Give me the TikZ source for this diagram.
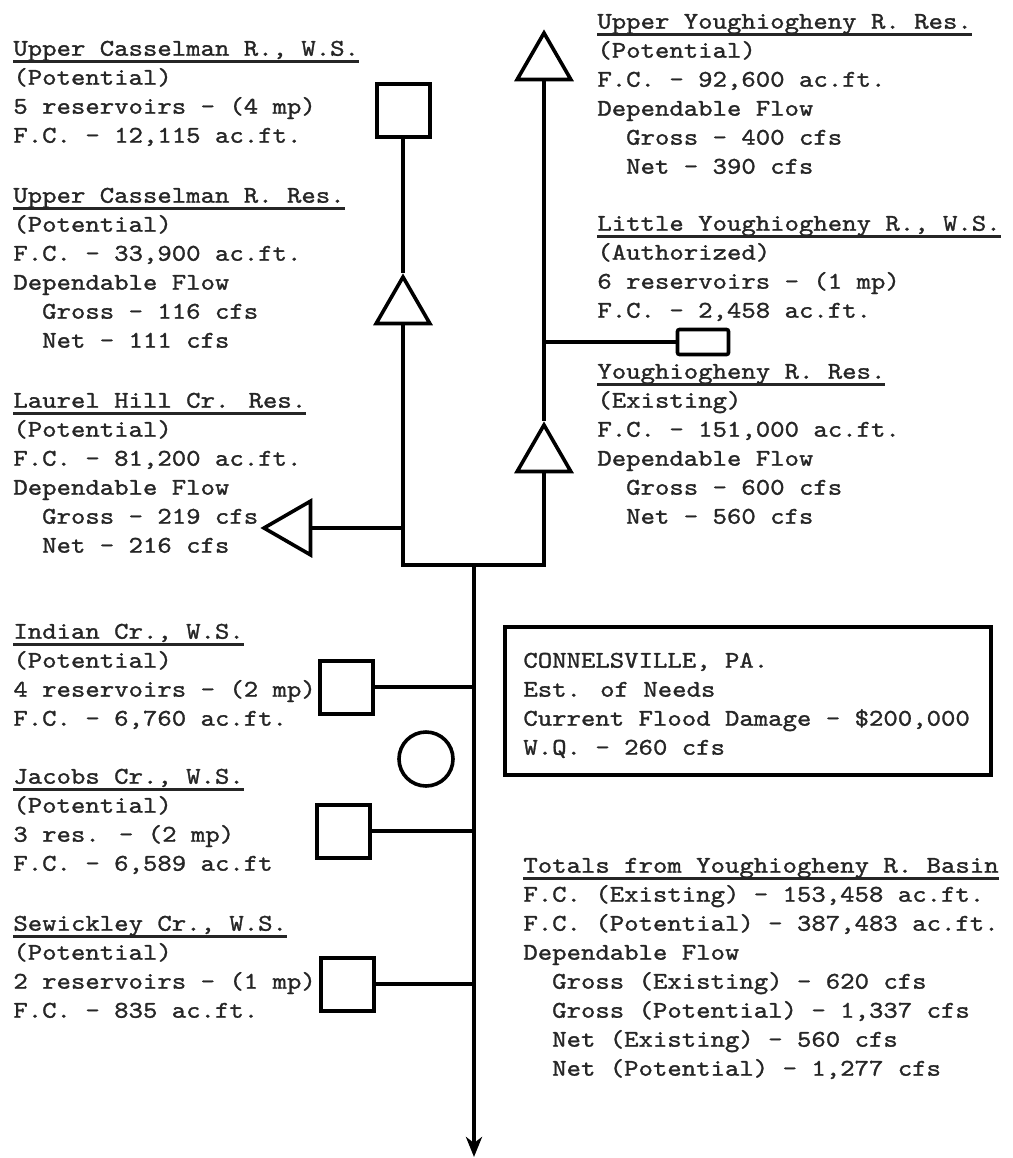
\documentclass[tikz,border=0pt]{standalone}
\usepackage{fontspec}
\usetikzlibrary{shapes.geometric,arrows.meta}
\newfontfamily\typer[FakeStretch=1.143,FakeBold=1.2]{lmmono10-regular.otf}
% underlined heading line of a block
\newcommand\hdr[1]{\strut\setbox0=\hbox{#1}\rlap{\rule[-3.7pt]{\wd0}{1.4pt}}\box0}
\newcommand\ind{\hphantom{xx}}
\tikzset{
  flow/.style={line width=1.8pt},
  damsq/.style={draw, line width=2pt, minimum size=26.5pt, inner sep=0pt},
  damtri/.style={draw, regular polygon, regular polygon sides=3, line width=1.8pt, minimum size=31pt, inner sep=0pt},
  info/.style={anchor=north west, align=left, inner sep=0pt, text=black!85, font=\typer\fontsize{12}{14.5}\selectfont},
}
\begin{document}
\begin{tikzpicture}[x=0.5pt,y=-0.5pt]
\useasboundingbox (0,0) rectangle (1013,1158);
% Casselman branch
\node[damsq] (ucwsSq) at (403,110) {};
\node[damtri] (ucresTri) at (403,308) {};
\node[damtri,shape border rotate=90] (laurTri) at (295,528) {};
\coordinate (laurJ) at (403,528);
% Youghiogheny branch
\node[damtri] (uyTri) at (544,64) {};
\node[draw,line width=1.8pt,rounded corners=1pt,minimum width=25.5pt,minimum height=12.5pt,inner sep=0pt] (lyBox) at (703,342) {};
\coordinate (lyJ) at (544,342);
\node[damtri] (yresTri) at (544,456) {};
% junction
\coordinate (jL) at (403,565);
\coordinate (jR) at (544,565);
\coordinate (jM) at (474,565);
\coordinate (outlet) at (474,1157);
% lower tributaries
\node[damsq] (indSq) at (346,687) {};
\node[draw,circle,line width=1.8pt,minimum size=27pt,inner sep=0pt] (gage) at (426,759) {};
\node[damsq] (jacSq) at (343,831) {};
\node[damsq] (sewSq) at (347,984) {};
\node[draw,line width=1.8pt,minimum width=243pt,minimum height=74pt,anchor=north west] (conn) at (503,625) {};

\draw[flow] (ucwsSq.south) -- (ucresTri.corner 1);
\draw[flow] (ucresTri.side 2) -- (jL) -- (jR) -- (yresTri.side 2);
\draw[flow] (laurTri.side 2) -- (laurJ);
\draw[flow] (uyTri.side 2) -- (yresTri.corner 1);
\draw[flow] (lyJ) -- (lyBox.west);
\draw[flow,-{Stealth[length=10pt,width=8pt,inset=3pt]}] (jM) -- (outlet);
\draw[flow] (indSq.east) -- (indSq.east -| jM);
\draw[flow] (jacSq.east) -- (jacSq.east -| jM);
\draw[flow] (sewSq.east) -- (sewSq.east -| jM);

% text blocks
\node[info] (ucwsTxt) at (13,35) {\hdr{Upper Casselman R., W.S.}\\(Potential)\\5 reservoirs - (4 mp)\\F.C. - 12,115 ac.ft.};
\node[info] (ucresTxt) at (13,182) {\hdr{Upper Casselman R. Res.}\\(Potential)\\F.C. - 33,900 ac.ft.\\Dependable Flow\\\ind Gross - 116 cfs\\\ind Net - 111 cfs};
\node[info] (laurTxt) at (13,387) {\hdr{Laurel Hill Cr. Res.}\\(Potential)\\F.C. - 81,200 ac.ft.\\Dependable Flow\\\ind Gross - 219 cfs\\\ind Net - 216 cfs};
\node[info] (indTxt) at (13,618) {\hdr{Indian Cr., W.S.}\\(Potential)\\4 reservoirs - (2 mp)\\F.C. - 6,760 ac.ft.};
\node[info] (jacTxt) at (13,763) {\hdr{Jacobs Cr., W.S.}\\(Potential)\\3 res. - (2 mp)\\F.C. - 6,589 ac.ft};
\node[info] (sewTxt) at (13,910) {\hdr{Sewickley Cr., W.S.}\\(Potential)\\2 reservoirs - (1 mp)\\F.C. - 835 ac.ft.};
\node[info] (uyTxt) at (597,8) {\hdr{Upper Youghiogheny R. Res.}\\(Potential)\\F.C. - 92,600 ac.ft.\\Dependable Flow\\\ind Gross - 400 cfs\\\ind Net - 390 cfs};
\node[info] (lyTxt) at (597,210) {\hdr{Little Youghiogheny R., W.S.}\\(Authorized)\\6 reservoirs - (1 mp)\\F.C. - 2,458 ac.ft.};
\node[info] (yresTxt) at (597,358) {\hdr{Youghiogheny R. Res.}\\(Existing)\\F.C. - 151,000 ac.ft.\\Dependable Flow\\\ind Gross - 600 cfs\\\ind Net - 560 cfs};
\node[info] (connTxt) at (523,647) {\strut CONNELSVILLE, PA.\\Est. of Needs\\Current Flood Damage - \$200,000\\W.Q. - 260 cfs};
\node[info] (totTxt) at (523,852) {\hdr{Totals from Youghiogheny R. Basin}\\F.C. (Existing) - 153,458 ac.ft.\\F.C. (Potential) - 387,483 ac.ft.\\Dependable Flow\\\ind Gross (Existing) - 620 cfs\\\ind Gross (Potential) - 1,337 cfs\\\ind Net (Existing) - 560 cfs\\\ind Net (Potential) - 1,277 cfs};
\end{tikzpicture}
\end{document}
